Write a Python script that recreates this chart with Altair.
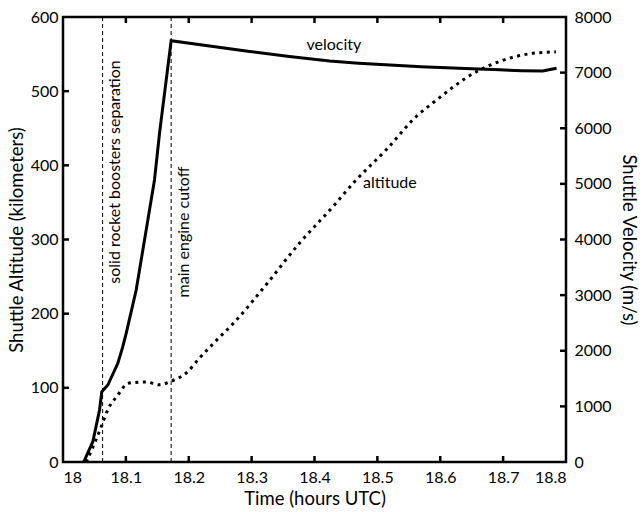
import altair as alt
import pandas as pd

# Data
alt_t = [18.037, 18.050, 18.061, 18.071, 18.087, 18.103, 18.111, 18.132, 18.1535, 18.172,
         18.196, 18.217, 18.244, 18.270, 18.323, 18.376, 18.429, 18.466, 18.514, 18.562,
         18.588, 18.657, 18.694, 18.747, 18.784]
alt_km = [0, 25, 48, 70, 90, 106, 107, 108, 104, 109,
          120, 140, 164, 186, 239, 295, 344, 380, 421, 466,
          484, 526, 540, 551, 553]

vel_t = [18.033, 18.0474, 18.0581, 18.0617, 18.0713, 18.0872, 18.0951, 18.1005, 18.1164,
         18.1323, 18.1455, 18.1535, 18.172, 18.297, 18.36, 18.424, 18.47, 18.52, 18.57,
         18.64, 18.694, 18.73, 18.763, 18.785]
vel_ms = [0, 365, 935, 1264, 1384, 1774, 2073, 2314, 3092,
          4171, 5070, 5909, 7574, 7380, 7290, 7210, 7170, 7135, 7105,
          7075, 7050, 7035, 7029, 7078]

event_t = [18.063, 18.172]
event_label = ["solid rocket boosters separation", "main engine cutoff"]
event_label_t = [18.082, 18.193]
event_label_alt = [391, 310]

series_label = ["velocity", "altitude"]
series_label_t = [18.4307, 18.52]
series_label_alt = [562, 376]

x_ticks = [18.0, 18.1, 18.2, 18.3, 18.4, 18.5, 18.6, 18.7, 18.8]
alt_ticks = [0, 100, 200, 300, 400, 500, 600]
vel_ticks = [0, 1000, 2000, 3000, 4000, 5000, 6000, 7000, 8000]

W, H = 503, 445
FONT = "Lato"
FS = 16
TFS = 18.5
TL = 6

df_alt = pd.DataFrame({"t": alt_t, "alt": alt_km})
df_vel = pd.DataFrame({"t": vel_t, "vel": vel_ms})
df_ev = pd.DataFrame({"t": event_t})
df_evl = pd.DataFrame({"t": event_label_t, "alt": event_label_alt, "label": event_label})
df_sl = pd.DataFrame({"t": series_label_t, "alt": series_label_alt, "label": series_label})
df_xt = pd.DataFrame({"t": x_ticks[1:-1]})
df_at = pd.DataFrame({"alt": alt_ticks[1:-1]})
df_vt = pd.DataFrame({"vel": vel_ticks[1:-1]})

xscale = alt.Scale(domain=[18, 18.8], nice=False, zero=False)
xaxis = alt.Axis(values=x_ticks, format=".4~g", title="Time (hours UTC)", labelFontSize=FS,
                 titleFontSize=TFS, titleFontWeight="normal", ticks=False, domain=False, grid=False,
                 labelPadding=7, titlePadding=4, labelFont=FONT, titleFont=FONT, labelColor="black",
                 titleColor="black")
yscale_a = alt.Scale(domain=[0, 600], nice=False)
yaxis_a = alt.Axis(orient="left", values=alt_ticks, title="Shuttle Altitude (kilometers)",
                   labelFontSize=FS, titleFontSize=TFS, titleFontWeight="normal", ticks=False,
                   domain=False, grid=False, labelPadding=5, titlePadding=4, labelFont=FONT,
                   titleFont=FONT, labelColor="black", titleColor="black")
yscale_v = alt.Scale(domain=[0, 8000], nice=False)
yaxis_v = alt.Axis(orient="right", values=vel_ticks, format="d", title="Shuttle Velocity (m/s)",
                   labelFontSize=FS, titleFontSize=TFS, titleFontWeight="normal", ticks=False,
                   domain=False, grid=False, labelPadding=8, titlePadding=7, labelFont=FONT,
                   titleFont=FONT, labelColor="black", titleColor="black")

alt_line = alt.Chart(df_alt).mark_line(color="black", strokeWidth=3, strokeDash=[3, 4.5],
                                        strokeCap="butt", interpolate="monotone").encode(
    x=alt.X("t:Q", scale=xscale, axis=xaxis),
    y=alt.Y("alt:Q", scale=yscale_a, axis=yaxis_a),
)
ev_lines = alt.Chart(df_ev).mark_rule(color="black", strokeWidth=1, strokeDash=[4, 3]).encode(
    x="t:Q", y=alt.value(0), y2=alt.value(H))
ev_text = alt.Chart(df_evl).mark_text(angle=270, align="center", baseline="middle",
                                      font=FONT, fontSize=FS, color="black").encode(
    x="t:Q", y="alt:Q", text="label:N")
s_text = alt.Chart(df_sl).mark_text(align="center", baseline="middle", font=FONT,
                                    fontSize=FS, color="black").encode(
    x="t:Q", y="alt:Q", text="label:N")
xt_bottom = alt.Chart(df_xt).mark_rule(color="black", strokeWidth=2.5).encode(
    x="t:Q", y=alt.value(H), y2=alt.value(H - TL))
xt_top = alt.Chart(df_xt).mark_rule(color="black", strokeWidth=2.5).encode(
    x="t:Q", y=alt.value(0), y2=alt.value(TL))
at_left = alt.Chart(df_at).mark_rule(color="black", strokeWidth=2.5).encode(
    y="alt:Q", x=alt.value(0), x2=alt.value(TL))

left_layer = alt.layer(alt_line, ev_lines, ev_text, s_text, xt_bottom, xt_top, at_left)

vel_line = alt.Chart(df_vel).mark_line(color="black", strokeWidth=3).encode(
    x=alt.X("t:Q", scale=xscale),
    y=alt.Y("vel:Q", scale=yscale_v, axis=yaxis_v),
)
vt_right = alt.Chart(df_vt).mark_rule(color="black", strokeWidth=2.5).encode(
    y="vel:Q", x=alt.value(W), x2=alt.value(W - TL))
right_layer = alt.layer(vel_line, vt_right)

chart = alt.layer(left_layer, right_layer).resolve_scale(y="independent").properties(
    width=W, height=H,
    autosize=alt.AutoSizeParams(type="none"),
    padding={"left": 63, "top": 17, "right": 76, "bottom": 50},
    background="white",
).configure_view(stroke="black", strokeWidth=2.5)

chart.save("out.html", embed_options={"renderer": "svg", "actions": False})
